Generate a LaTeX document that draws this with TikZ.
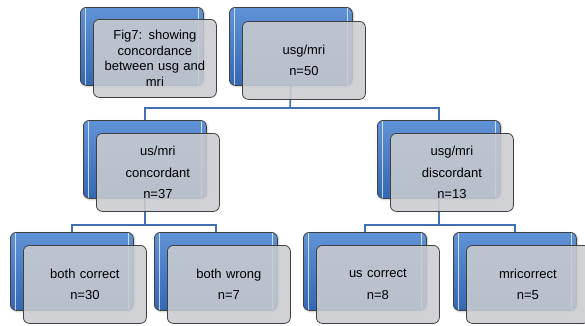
\documentclass[tikz,border=0pt]{standalone}
\usepackage{fontspec}
\setmainfont{Liberation Sans}
\usepackage{tikz}
\usetikzlibrary{shadows.blur}
\usetikzlibrary{positioning}

\definecolor{boxblue}{RGB}{96,146,214}
\definecolor{boxbluedark}{RGB}{52,104,178}
\definecolor{boxgrey}{RGB}{202,204,208}
\definecolor{linkblue}{RGB}{66,112,176}

\tikzset{
  back/.style={draw=black!75, line width=0.8pt, rounded corners=6pt, anchor=north west,
    minimum width=123pt, minimum height=78pt, inner sep=0pt,
    top color=boxblue, bottom color=boxbluedark,
    blur shadow={shadow xshift=1pt, shadow yshift=-1pt, shadow blur steps=4, shadow opacity=25},
    path picture={
      \draw[white, opacity=.7, line width=1.8pt, line cap=round]
        ([xshift=5pt,yshift=9pt]path picture bounding box.north west) -- ([xshift=5pt,yshift=-9pt]path picture bounding box.south west)
        ([xshift=-5pt,yshift=9pt]path picture bounding box.north east) -- ([xshift=-5pt,yshift=-9pt]path picture bounding box.south east);
    }},
  front/.style={draw=black!75, line width=0.8pt, rounded corners=6pt,
    minimum width=123pt, minimum height=78pt, inner sep=0pt,
    fill=boxgrey, fill opacity=.88, text opacity=1, align=center, text width=115pt,
    font=\fontsize{13}{21.5}\selectfont},
  link/.style={draw=linkblue, line width=1.6pt}
}

\begin{document}
\begin{tikzpicture}[x=1pt,y=1pt,yscale=-1,xscale=1]
\useasboundingbox (0,0) rectangle (585,325);
% bus lines, under the boxes
\coordinate (topbus) at (290,108);
\coordinate (concbus) at (145,225);
\coordinate (discbus) at (439,225);
% blue back plates
\node[back] (figb) at (80,7) {};
\node[back] (topb) at (229,7) {};
\node[back] (concb) at (83,120) {};
\node[back] (discb) at (377,120) {};
\node[back] (bcb) at (10,232) {};
\node[back] (bwb) at (154,232) {};
\node[back] (ucb) at (303,232) {};
\node[back] (mcb) at (453,232) {};
% connectors
\draw[link] (topb.south) -- (topbus);
\draw[link] (topbus) -| (concb.north);
\draw[link] (topbus) -| (discb.north);
\draw[link] (concb.south) -- (concbus);
\draw[link] (concbus) -| (bcb.north);
\draw[link] (concbus) -| (bwb.north);
\draw[link] (discb.south) -- (discbus);
\draw[link] (discbus) -| (ucb.north);
\draw[link] (discbus) -| (mcb.north);
% grey front cards with the labels
\node[front, font=\fontsize{13}{15.5}\selectfont] (fig) at ([xshift=13pt,yshift=12pt]figb.center) {Fig7: showing\\concordance\\between usg and\\mri};
\node[front] (top) at ([xshift=13pt,yshift=14pt]topb.center) {usg/mri\\n=50};
\node[front] (conc) at ([xshift=13pt,yshift=13pt]concb.center) {us/mri\\concordant\\n=37};
\node[front] (disc) at ([xshift=13pt,yshift=13pt]discb.center) {usg/mri\\discordant\\n=13};
\node[front] (bc) at ([xshift=13pt,yshift=13pt]bcb.center) {both correct\\n=30};
\node[front] (bw) at ([xshift=13pt,yshift=13pt]bwb.center) {both wrong\\n=7};
\node[front] (uc) at ([xshift=13pt,yshift=13pt]ucb.center) {us correct\\n=8};
\node[front] (mc) at ([xshift=13pt,yshift=13pt]mcb.center) {mricorrect\\n=5};
\end{tikzpicture}
\end{document}
